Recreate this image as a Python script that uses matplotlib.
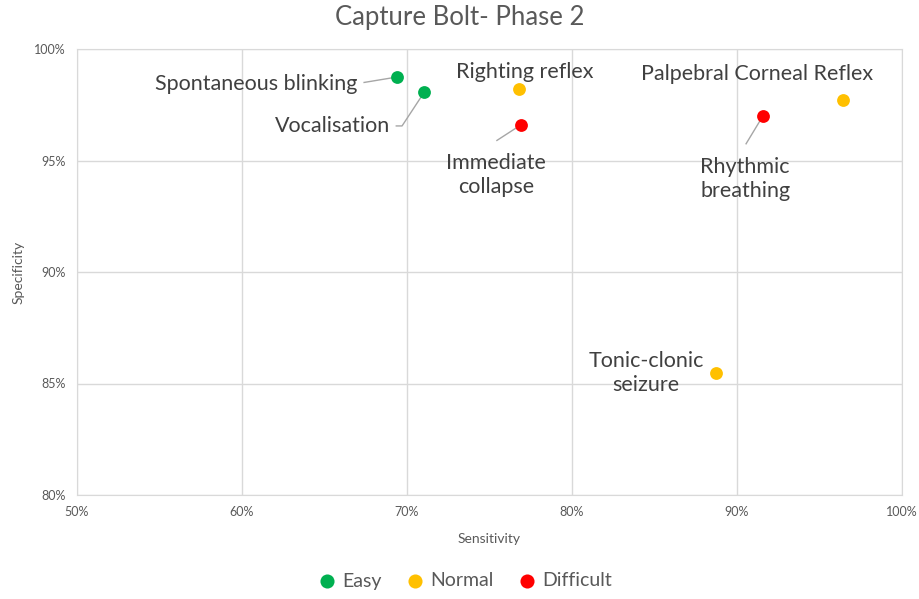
import matplotlib.pyplot as plt
from matplotlib.ticker import PercentFormatter

plt.rcParams['font.family'] = ['Lato', 'DejaVu Sans']

# data (percent)
labels = ["Spontaneous blinking", "Vocalisation", "Righting reflex", "Immediate\ncollapse",
          "Rhythmic\nbreathing", "Palpebral Corneal Reflex", "Tonic-clonic\nseizure"]
sensitivity = [69.4, 71.0, 76.8, 76.9, 91.6, 96.4, 88.7]
specificity = [98.75, 98.05, 98.2, 96.6, 97.0, 97.7, 85.45]
difficulty = ["Easy", "Easy", "Normal", "Difficult", "Difficult", "Normal", "Normal"]

# label positions (data coords) and alignment
label_x = [67.0, 69.0, 77.15, 75.4, 90.5, 91.2, 84.5]
label_y = [98.45, 96.55, 98.97, 94.35, 94.15, 98.88, 85.45]
label_ha = ["right", "right", "center", "center", "center", "center", "center"]

groups = ["Easy", "Normal", "Difficult"]
colors = {"Easy": "#00B050", "Normal": "#FFC000", "Difficult": "#FF0000"}

text_col = "#595959"
grid_col = "#D9D9D9"

fig = plt.figure(figsize=(9.19, 5.99), dpi=100)
ax = fig.add_axes([77 / 919, 1 - 495 / 599, 825 / 919, 446 / 599])

for g in groups:
    xs = [x for x, d in zip(sensitivity, difficulty) if d == g]
    ys = [y for y, d in zip(specificity, difficulty) if d == g]
    ax.scatter(xs, ys, s=85, color=colors[g], label=g, zorder=3, linewidths=0)

for i, lab in enumerate(labels):
    ax.text(label_x[i], label_y[i], lab, ha=label_ha[i], va="center",
            fontsize=15.5, color="#404040", linespacing=1.25, zorder=4)

# leader lines
ax.plot([67.4, 69.2], [98.5, 98.72], color="#A6A6A6", lw=1, zorder=2)
ax.plot([69.35, 69.7, 70.9], [96.55, 96.55, 97.9], color="#A6A6A6", lw=1, zorder=2)
ax.plot([75.45, 76.7], [95.9, 96.5], color="#A6A6A6", lw=1, zorder=2)
ax.plot([90.55, 91.45], [95.75, 96.85], color="#A6A6A6", lw=1, zorder=2)

ax.set_xlim(50, 100)
ax.set_ylim(80, 100)
ax.set_xticks([50, 60, 70, 80, 90, 100])
ax.set_yticks([80, 85, 90, 95, 100])
ax.xaxis.set_major_formatter(PercentFormatter(decimals=0))
ax.yaxis.set_major_formatter(PercentFormatter(decimals=0))
ax.tick_params(colors=text_col, labelsize=9, length=0, pad=8)
ax.grid(True, color=grid_col, lw=1)
ax.set_axisbelow(True)
for sp in ax.spines.values():
    sp.set_color(grid_col)

ax.set_xlabel("Sensitivity", color=text_col, fontsize=10, labelpad=11)
ax.set_ylabel("Specificity", color=text_col, fontsize=10, labelpad=7)
fig.text(0.5, 1 - 17 / 599, "Capture Bolt- Phase 2", ha="center", va="center",
         fontsize=18.5, color=text_col)

fig.legend(loc="center", bbox_to_anchor=(0.5, 1 - 581 / 599), ncol=3, frameon=False,
           fontsize=14, handletextpad=-0.2, columnspacing=0.7, labelcolor=text_col,
           markerscale=1.1)

fig.savefig("out.png", dpi=100)
